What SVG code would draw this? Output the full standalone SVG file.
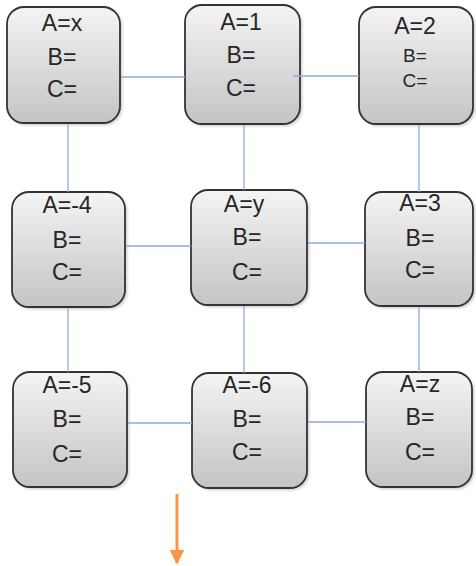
<svg xmlns="http://www.w3.org/2000/svg" width="476" height="566" viewBox="0 0 476 566">
  <style>
    .box { fill: url(#boxFill); stroke: #333333; stroke-width: 1.8; }
    .shadow { fill: #9a9a9a; opacity: 0.55; filter: url(#soft); }
    .lbl { font-family: "Liberation Sans", Arial, sans-serif; font-size: 23px; fill: #262626; text-anchor: middle; }
    .sm { font-size: 19px; }
    .link { stroke: #8eaadb; stroke-width: 1.3; fill: none; }
    .flow { stroke: #f79646; stroke-width: 3; fill: none; }
  </style>
  <defs>
    <linearGradient id="boxFill" x1="0" y1="0" x2="0" y2="1">
      <stop offset="0" stop-color="#f4f4f4"/>
      <stop offset="1" stop-color="#c4c4c4"/>
    </linearGradient>
    <filter id="soft" x="-10%" y="-10%" width="120%" height="120%">
      <feGaussianBlur stdDeviation="1.5"/>
    </filter>
    <marker id="orangeHead" markerWidth="5" markerHeight="5" refX="4.5" refY="2.5" orient="auto" markerUnits="strokeWidth">
      <path d="M0,0 L5,2.5 L0,5 Z" fill="#f79646"/>
    </marker>
  </defs>

  <rect width="476" height="566" fill="#ffffff"/>

  <!-- top row -->
  <g id="node-ax">
    <rect class="shadow" x="9" y="9" width="113" height="116" rx="17"/>
    <rect class="box" x="7" y="7" width="113" height="116" rx="17"/>
    <text class="lbl" x="62" y="31">A=x</text>
    <text class="lbl" x="62" y="65">B=</text>
    <text class="lbl" x="62" y="97">C=</text>
  </g>
  <g id="node-a1">
    <rect class="shadow" x="187" y="7" width="115" height="119" rx="17"/>
    <rect class="box" x="185" y="5" width="115" height="119" rx="17"/>
    <text class="lbl" x="241" y="30">A=1</text>
    <text class="lbl" x="241" y="63">B=</text>
    <text class="lbl" x="241" y="96">C=</text>
  </g>
  <g id="node-a2">
    <rect class="shadow" x="361" y="9" width="114" height="117" rx="17"/>
    <rect class="box" x="359" y="7" width="114" height="117" rx="17"/>
    <text class="lbl" x="415" y="34">A=2</text>
    <text class="lbl sm" x="415" y="62">B=</text>
    <text class="lbl sm" x="415" y="87">C=</text>
  </g>

  <!-- middle row -->
  <g id="node-a-4">
    <rect class="shadow" x="14" y="194" width="113" height="115" rx="17"/>
    <rect class="box" x="12" y="192" width="113" height="115" rx="17"/>
    <text class="lbl" x="67" y="213">A=-4</text>
    <text class="lbl" x="67" y="248">B=</text>
    <text class="lbl" x="67" y="280">C=</text>
  </g>
  <g id="node-ay">
    <rect class="shadow" x="193" y="192" width="116" height="115" rx="17"/>
    <rect class="box" x="191" y="190" width="116" height="115" rx="17"/>
    <text class="lbl" x="244" y="212">A=y</text>
    <text class="lbl" x="247" y="245">B=</text>
    <text class="lbl" x="247" y="280">C=</text>
  </g>
  <g id="node-a3">
    <rect class="shadow" x="367" y="194" width="108" height="114" rx="17"/>
    <rect class="box" x="365" y="192" width="108" height="114" rx="17"/>
    <text class="lbl" x="420" y="211">A=3</text>
    <text class="lbl" x="420" y="246">B=</text>
    <text class="lbl" x="420" y="278">C=</text>
  </g>

  <!-- bottom row -->
  <g id="node-a-5">
    <rect class="shadow" x="15" y="374" width="114" height="115" rx="17"/>
    <rect class="box" x="13" y="372" width="114" height="115" rx="17"/>
    <text class="lbl" x="67" y="393">A=-5</text>
    <text class="lbl" x="67" y="427">B=</text>
    <text class="lbl" x="67" y="462">C=</text>
  </g>
  <g id="node-a-6">
    <rect class="shadow" x="194" y="375" width="115" height="115" rx="17"/>
    <rect class="box" x="192" y="373" width="115" height="115" rx="17"/>
    <text class="lbl" x="247" y="393">A=-6</text>
    <text class="lbl" x="247" y="427">B=</text>
    <text class="lbl" x="247" y="460">C=</text>
  </g>
  <g id="node-az">
    <rect class="shadow" x="368" y="374" width="106" height="115" rx="17"/>
    <rect class="box" x="366" y="372" width="106" height="115" rx="17"/>
    <text class="lbl" x="420" y="392">A=z</text>
    <text class="lbl" x="420" y="425">B=</text>
    <text class="lbl" x="420" y="460">C=</text>
  </g>

  <!-- connectors, drawn over the boxes -->
  <g id="connectors">
    <line class="link" x1="121" y1="77" x2="185" y2="77"/>
    <line class="link" x1="293" y1="76" x2="359" y2="76"/>
    <line class="link" x1="68" y1="124" x2="68" y2="192"/>
    <line class="link" x1="244" y1="125" x2="244" y2="190"/>
    <line class="link" x1="419" y1="125" x2="419" y2="192"/>
    <line class="link" x1="126" y1="246" x2="191" y2="246"/>
    <line class="link" x1="308" y1="243" x2="365" y2="243"/>
    <line class="link" x1="68" y1="308" x2="68" y2="372"/>
    <line class="link" x1="244" y1="306" x2="244" y2="373"/>
    <line class="link" x1="419" y1="307" x2="419" y2="372"/>
    <line class="link" x1="128" y1="423" x2="192" y2="423"/>
    <line class="link" x1="308" y1="422" x2="366" y2="422"/>
    <line class="flow" x1="177" y1="494" x2="177" y2="563" marker-end="url(#orangeHead)"/>
  </g>
</svg>
